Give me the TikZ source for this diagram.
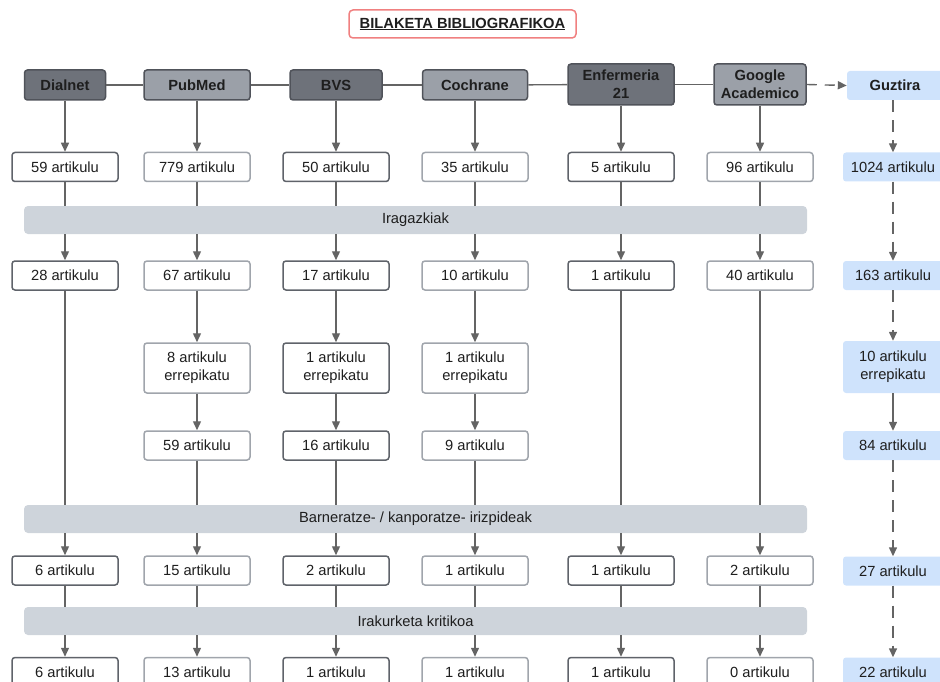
\documentclass[tikz,border=0pt]{standalone}
\usepackage{fontspec}
\setmainfont{Liberation Sans}
\usetikzlibrary{arrows.meta}
\definecolor{hdark}{RGB}{110,114,122}
\definecolor{hlight}{RGB}{155,160,168}
\definecolor{hborder}{RGB}{80,83,90}
\definecolor{bdark}{RGB}{95,99,106}
\definecolor{blight}{RGB}{160,165,172}
\definecolor{bandc}{RGB}{206,212,219}
\definecolor{totc}{RGB}{207,227,252}
\definecolor{linec}{RGB}{100,100,100}
\definecolor{titlec}{RGB}{240,128,128}
\definecolor{textc}{RGB}{30,30,30}
\tikzset{
  every node/.style={font=\fontsize{14.7}{18}\selectfont, inner sep=0pt, align=center, text=textc},
  hd/.style={rounded corners=3pt, fill=hdark, draw=hborder, line width=1.5pt, minimum height=30pt, font=\fontsize{14.7}{18}\selectfont\bfseries},
  hl/.style={hd, fill=hlight},
  bx/.style={rounded corners=3pt, fill=white, draw=bdark, line width=1.5pt, minimum width=106pt, minimum height=29pt},
  bxl/.style={bx, draw=blight},
  tot/.style={rounded corners=3pt, fill=totc, minimum width=100pt, minimum height=29pt},
  band/.style={rounded corners=4pt, fill=bandc, minimum width=783pt, minimum height=28pt},
  conn/.style={draw=linec, line width=1.4pt},
  arr/.style={conn, -{Triangle[length=9pt,width=8pt]}},
  darr/.style={arr, dash pattern=on 12pt off 8pt},
}
\begin{document}
\begin{tikzpicture}[x=1pt,y=-1pt]
\useasboundingbox (0,0) rectangle (940,682);
% title
\node[draw=titlec, line width=1.5pt, rounded corners=4pt, minimum width=227pt, minimum height=28pt, font=\fontsize{14.7}{16}\selectfont\bfseries] (title) at (462.5,24) {\underline{BILAKETA BIBLIOGRAFIKOA}};
% headers
\node[hd, minimum width=81pt] (h1) at (65,85) {Dialnet};
\node[hl, minimum width=106pt] (h2) at (197,85) {PubMed};
\node[hd, minimum width=92pt] (h3) at (336,85) {BVS};
\node[hl, minimum width=105pt] (h4) at (475,85) {Cochrane};
\node[hd, minimum width=106pt, minimum height=41pt] (h5) at (621,84.5) {Enfermeria\\21};
\node[hl, minimum width=92pt, minimum height=41pt] (h6) at (760,84.5) {Google\\Academico};
\node[tot, minimum width=96pt, font=\fontsize{14.7}{16}\selectfont\bfseries] (h7) at (895,85.5) {Guztira};
% bands
\node[band] (b1) at (415.5,220) {Iragazkiak};
\node[band] (b2) at (415.5,519) {Barneratze- / kanporatze- irizpideak};
\node[band] (b3) at (415.5,621) {Irakurketa kritikoa};
% row 1
\node[bx] (r11) at (65,167) {59 artikulu};
\node[bxl] (r12) at (197,167) {779 artikulu};
\node[bx] (r13) at (336,167) {50 artikulu};
\node[bxl] (r14) at (475,167) {35 artikulu};
\node[bx] (r15) at (621,167) {5 artikulu};
\node[bxl] (r16) at (760,167) {96 artikulu};
\node[tot] (r17) at (893,167) {1024 artikulu};
% row 2
\node[bx] (r21) at (65,275.5) {28 artikulu};
\node[bxl] (r22) at (197,275.5) {67 artikulu};
\node[bx] (r23) at (336,275.5) {17 artikulu};
\node[bxl] (r24) at (475,275.5) {10 artikulu};
\node[bx] (r25) at (621,275.5) {1 artikulu};
\node[bxl] (r26) at (760,275.5) {40 artikulu};
\node[tot] (r27) at (893,275.5) {163 artikulu};
% row 3
\node[bxl, minimum height=50pt] (r32) at (197,368) {8 artikulu\\errepikatu};
\node[bx, minimum height=50pt] (r33) at (336,368) {1 artikulu\\errepikatu};
\node[bxl, minimum height=50pt] (r34) at (475,368) {1 artikulu\\errepikatu};
\node[tot, minimum height=52pt] (r37) at (893,367) {10 artikulu\\errepikatu};
% row 4
\node[bxl] (r42) at (197,445.5) {59 artikulu};
\node[bx] (r43) at (336,445.5) {16 artikulu};
\node[bxl] (r44) at (475,445.5) {9 artikulu};
\node[tot] (r47) at (893,445.5) {84 artikulu};
% row 5
\node[bx] (r51) at (65,570.5) {6 artikulu};
\node[bxl] (r52) at (197,570.5) {15 artikulu};
\node[bx] (r53) at (336,570.5) {2 artikulu};
\node[bxl] (r54) at (475,570.5) {1 artikulu};
\node[bx] (r55) at (621,570.5) {1 artikulu};
\node[bxl] (r56) at (760,570.5) {2 artikulu};
\node[tot] (r57) at (893,571) {27 artikulu};
% row 6
\node[bx] (r61) at (65,672) {6 artikulu};
\node[bxl] (r62) at (197,672) {13 artikulu};
\node[bx] (r63) at (336,672) {1 artikulu};
\node[bxl] (r64) at (475,672) {1 artikulu};
\node[bx] (r65) at (621,672) {1 artikulu};
\node[bxl] (r66) at (760,672) {0 artikulu};
\node[tot] (r67) at (893,672) {22 artikulu};
% header links
\draw[conn] (h1) -- (h2);
\draw[conn] (h2) -- (h3);
\draw[conn] (h3) -- (h4);
\draw[conn] (h4) -- (h5);
\draw[conn] (h5) -- (h6);
\draw[arr, dash pattern=on 10pt off 8pt] (h6.east) -- (h7.west);
% columns
\foreach \i in {1,...,6} {
  \draw[arr] (h\i.south) -- (r1\i.north);
  \draw[conn] (r1\i.south) -- (r1\i.south |- b1.north);
  \draw[arr] (r1\i.south |- b1.south) -- (r2\i.north);
  \draw[arr] (r5\i.south |- b2.south) -- (r5\i.north);
  \draw[conn] (r5\i.south) -- (r5\i.south |- b3.north);
  \draw[arr] (r5\i.south |- b3.south) -- (r6\i.north);
}
\foreach \i in {1,5,6} {
  \draw[conn] (r2\i.south) -- (r2\i.south |- b2.north);
}
\foreach \i in {2,3,4} {
  \draw[arr] (r2\i.south) -- (r3\i.north);
  \draw[arr] (r3\i.south) -- (r4\i.north);
  \draw[conn] (r4\i.south) -- (r4\i.south |- b2.north);
}
% total column
\draw[darr] (h7.south -| r17.north) -- (r17.north);
\draw[darr] (r17.south) -- (r27.north);
\draw[darr] (r27.south) -- (r37.north);
\draw[arr] (r37.south) -- (r47.north);
\draw[darr] (r47.south) -- (r57.north);
\draw[darr] (r57.south) -- (r67.north);
\end{tikzpicture}
\end{document}
